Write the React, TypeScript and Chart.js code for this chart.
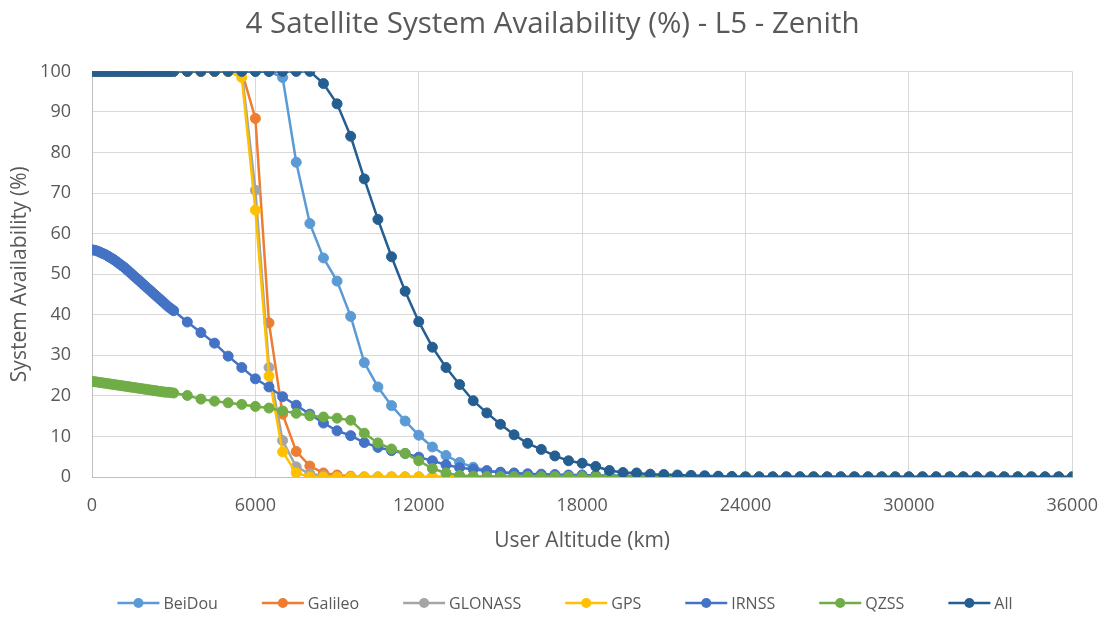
import React, { useEffect, useRef } from 'react';
import { Chart, registerables } from 'chart.js';

Chart.register(...registerables);

const FONT = "'Open Sans', sans-serif";
const TEXT = '#595959';

const chartTitle = '4 Satellite System Availability (%) - L5 - Zenith';
const xAxisTitle = 'User Altitude (km)';
const yAxisTitle = 'System Availability (%)';

const xTicks = [0, 6000, 12000, 18000, 24000, 30000, 36000];
const yTicks = [0, 10, 20, 30, 40, 50, 60, 70, 80, 90, 100];

const altitudes = [
  0, 100, 200, 300, 400, 500, 600, 700, 800, 900,
  1000, 1100, 1200, 1300, 1400, 1500, 1600, 1700, 1800, 1900,
  2000, 2100, 2200, 2300, 2400, 2500, 2600, 2700, 2800, 2900,
  3000,
  3500, 4000, 4500, 5000, 5500, 6000, 6500, 7000, 7500, 8000,
  8500, 9000, 9500, 10000, 10500, 11000, 11500, 12000, 12500, 13000,
  13500, 14000, 14500, 15000, 15500, 16000, 16500, 17000, 17500, 18000,
  18500, 19000, 19500, 20000, 20500, 21000, 21500, 22000,
  22500, 23000, 23500, 24000, 24500, 25000, 25500, 26000, 26500, 27000, 27500, 28000, 28500, 29000,
  29500, 30000, 30500, 31000, 31500, 32000, 32500, 33000, 33500, 34000, 34500, 35000, 35500, 36000,
];

const beidou = [
  100, 100, 100, 100, 100, 100, 100, 100, 100, 100,
  100, 100, 100, 100, 100, 100, 100, 100, 100, 100,
  100, 100, 100, 100, 100, 100, 100, 100, 100, 100,
  100,
  100, 100, 100, 100, 100, 100, 100, 98.5, 77.6, 62.5,
  54, 48.3, 39.6, 28.2, 22.2, 17.6, 13.8, 10.3, 7.4, 5.3,
  3.6, 2.4, 1.6, 1.1, 0.8, 0.5, 0.3, 0.2, 0.1, 0,
  0, 0, 0, 0, 0, 0, 0, 0,
  0, 0, 0, 0, 0, 0, 0, 0, 0, 0, 0, 0, 0, 0,
  0, 0, 0, 0, 0, 0, 0, 0, 0, 0, 0, 0, 0, 0,
];

const galileo = [
  100, 100, 100, 100, 100, 100, 100, 100, 100, 100,
  100, 100, 100, 100, 100, 100, 100, 100, 100, 100,
  100, 100, 100, 100, 100, 100, 100, 100, 100, 100,
  100,
  100, 100, 100, 100, 100, 88.4, 38, 15.5, 6.3, 2.7,
  1.0, 0.5, 0.2, 0, 0, 0, 0, 0, 0, 0,
  0, 0, 0, 0, 0, 0, 0, 0, 0, 0,
  0, 0, 0, 0, 0, 0, 0, 0,
  0, 0, 0, 0, 0, 0, 0, 0, 0, 0, 0, 0, 0, 0,
  0, 0, 0, 0, 0, 0, 0, 0, 0, 0, 0, 0, 0, 0,
];

const glonass = [
  100, 100, 100, 100, 100, 100, 100, 100, 100, 100,
  100, 100, 100, 100, 100, 100, 100, 100, 100, 100,
  100, 100, 100, 100, 100, 100, 100, 100, 100, 100,
  100,
  100, 100, 100, 100, 100, 70.7, 27, 9, 2.5, 0.8,
  0.3, 0, 0, 0, 0, 0, 0, 0, 0, 0,
  0, 0, 0, 0, 0, 0, 0, 0, 0, 0,
  0, 0, 0, 0, 0, 0, 0, 0,
  0, 0, 0, 0, 0, 0, 0, 0, 0, 0, 0, 0, 0, 0,
  0, 0, 0, 0, 0, 0, 0, 0, 0, 0, 0, 0, 0, 0,
];

const gps = [
  100, 100, 100, 100, 100, 100, 100, 100, 100, 100,
  100, 100, 100, 100, 100, 100, 100, 100, 100, 100,
  100, 100, 100, 100, 100, 100, 100, 100, 100, 100,
  100,
  100, 100, 100, 100, 98.5, 65.8, 24.9, 6.2, 1.0, 0,
  0, 0, 0, 0, 0, 0, 0, 0, 0, 0,
  0, 0, 0, 0, 0, 0, 0, 0, 0, 0,
  0, 0, 0, 0, 0, 0, 0, 0,
  0, 0, 0, 0, 0, 0, 0, 0, 0, 0, 0, 0, 0, 0,
  0, 0, 0, 0, 0, 0, 0, 0, 0, 0, 0, 0, 0, 0,
];

const irnss = [
  56.0, 55.9, 55.7, 55.4, 55.1, 54.8, 54.4, 54.0, 53.6, 53.1,
  52.6, 52.1, 51.6, 51.0, 50.4, 49.8, 49.2, 48.6, 48.0, 47.4,
  46.8, 46.2, 45.6, 45.0, 44.4, 43.8, 43.2, 42.6, 42.0, 41.5,
  41.0,
  38.2, 35.6, 33.0, 29.8, 27.0, 24.2, 22.2, 19.8, 17.7, 15.5,
  13.3, 11.4, 10.2, 8.5, 7.3, 6.5, 5.8, 4.9, 4.0, 3.0,
  2.3, 1.9, 1.5, 1.2, 1.0, 0.8, 0.7, 0.6, 0.5, 0.5,
  0.4, 0.4, 0.3, 0.3, 0.2, 0.2, 0.1, 0.1,
  0, 0, 0, 0, 0, 0, 0, 0, 0, 0, 0, 0, 0, 0,
  0, 0, 0, 0, 0, 0, 0, 0, 0, 0, 0, 0, 0, 0,
];

const qzss = [
  23.6, 23.5, 23.4, 23.3, 23.2, 23.1, 23.0, 22.9, 22.8, 22.7,
  22.6, 22.5, 22.4, 22.3, 22.2, 22.1, 22.0, 21.9, 21.8, 21.7,
  21.6, 21.5, 21.4, 21.3, 21.2, 21.1, 21.0, 20.9, 20.9, 20.8,
  20.7,
  20.1, 19.2, 18.7, 18.3, 17.9, 17.4, 17.0, 16.3, 15.7, 15.1,
  14.8, 14.5, 14.0, 10.8, 8.4, 6.9, 5.8, 4.0, 2.1, 1.0,
  0.4, 0.2, 0.1, 0.1, 0.1, 0.1, 0.1, 0.1, 0.1, 0.1,
  0.1, 0.1, 0.1, 0.1, 0.1, 0.1, 0.1, 0.1,
  0, 0, 0, 0, 0, 0, 0, 0, 0, 0, 0, 0, 0, 0,
  0, 0, 0, 0, 0, 0, 0, 0, 0, 0, 0, 0, 0, 0,
];

const all = [
  100, 100, 100, 100, 100, 100, 100, 100, 100, 100,
  100, 100, 100, 100, 100, 100, 100, 100, 100, 100,
  100, 100, 100, 100, 100, 100, 100, 100, 100, 100,
  100,
  100, 100, 100, 100, 100, 100, 100, 100, 100, 100,
  97, 92, 84, 73.5, 63.5, 54.3, 45.8, 38.3, 32, 27,
  22.8, 18.8, 15.8, 13, 10.4, 8.3, 6.8, 5.2, 4.0, 3.4,
  2.6, 1.6, 1.1, 1.0, 0.7, 0.6, 0.5, 0.4,
  0.3, 0.2, 0.1, 0, 0, 0, 0, 0, 0, 0, 0, 0, 0, 0,
  0, 0, 0, 0, 0, 0, 0, 0, 0, 0, 0, 0, 0, 0,
];

const seriesNames = ['BeiDou', 'Galileo', 'GLONASS', 'GPS', 'IRNSS', 'QZSS', 'All'];
const seriesValues = [beidou, galileo, glonass, gps, irnss, qzss, all];
const seriesColors = ['#5B9BD5', '#ED7D31', '#A5A5A5', '#FFC000', '#4472C4', '#70AD47', '#255E91'];

const excelLegend = {
  id: 'excelLegend',
  afterDraw(chart: any) {
    const ctx = chart.ctx;
    ctx.save();
    ctx.font = `16px ${FONT}`;
    ctx.textBaseline = 'middle';
    const lineLen = 42;
    const textGap = 4;
    const itemGap = 44;
    const widths = seriesNames.map((n) => ctx.measureText(n).width);
    const total =
      widths.reduce((a: number, w: number) => a + lineLen + textGap + w, 0) +
      itemGap * (seriesNames.length - 1);
    let x = 565 - total / 2;
    const y = 603;
    seriesNames.forEach((n, i) => {
      ctx.strokeStyle = seriesColors[i];
      ctx.lineWidth = 2.5;
      ctx.beginPath();
      ctx.moveTo(x, y);
      ctx.lineTo(x + lineLen, y);
      ctx.stroke();
      ctx.fillStyle = seriesColors[i];
      ctx.beginPath();
      ctx.arc(x + lineLen / 2, y, 5, 0, Math.PI * 2);
      ctx.fill();
      ctx.fillStyle = TEXT;
      ctx.fillText(n, x + lineLen + textGap, y + 1);
      x += lineLen + textGap + widths[i] + itemGap;
    });
    ctx.restore();
  },
};

export default function App() {
  const canvasRef = useRef<HTMLCanvasElement | null>(null);

  useEffect(() => {
    if (!canvasRef.current) return;
    const datasets = seriesNames.map((name, i) => ({
      label: name,
      data: altitudes.map((a, j) => ({ x: a, y: seriesValues[i][j] })),
      borderColor: seriesColors[i],
      backgroundColor: seriesColors[i],
      pointBackgroundColor: seriesColors[i],
      pointBorderColor: seriesColors[i],
      pointRadius: 5,
      pointBorderWidth: 1,
      borderWidth: 2.5,
      tension: 0,
      order: seriesNames.length - 1 - i,
    }));

    const chart = new Chart(canvasRef.current, {
      type: 'line',
      data: { datasets },
      plugins: [excelLegend],
      options: {
        responsive: false,
        animation: false,
        layout: { padding: { top: 0, right: 0, bottom: 61, left: 0 } },
        plugins: {
          legend: { display: false },
          tooltip: { enabled: false },
          title: {
            display: true,
            text: chartTitle,
            color: TEXT,
            font: { family: FONT, size: 29.5, weight: 'normal' },
            padding: { top: 7, bottom: 29 },
          },
        },
        scales: {
          x: {
            type: 'linear',
            min: 0,
            max: 36000,
            afterBuildTicks: (scale: any) => {
              scale.ticks = xTicks.map((v) => ({ value: v }));
            },
            afterFit: (scale: any) => {
              scale.height = 80;
            },
            ticks: {
              color: TEXT,
              font: { family: FONT, size: 18 },
              padding: 7,
              maxRotation: 0,
              callback: (v: any) => String(v),
            },
            grid: {
              color: '#d9d9d9',
              lineWidth: 1,
              drawTicks: true,
              tickLength: 11,
              tickColor: 'rgba(0,0,0,0)',
            },
            border: { display: true, color: '#bfbfbf', width: 1 },
            title: {
              display: true,
              text: xAxisTitle,
              color: TEXT,
              font: { family: FONT, size: 21 },
              padding: { top: 2, bottom: 3 },
            },
          },
          y: {
            type: 'linear',
            min: 0,
            max: 100,
            afterBuildTicks: (scale: any) => {
              scale.ticks = yTicks.map((v) => ({ value: v }));
            },
            afterFit: (scale: any) => {
              scale.width = 92;
            },
            ticks: {
              color: TEXT,
              font: { family: FONT, size: 18 },
              padding: 21,
              crossAlign: 'near',
              callback: (v: any) => String(v),
            },
            grid: {
              color: '#d9d9d9',
              lineWidth: 1,
              drawTicks: false,
            },
            border: { display: true, color: '#bfbfbf', width: 1 },
            title: {
              display: true,
              text: yAxisTitle,
              color: TEXT,
              font: { family: FONT, size: 21 },
              padding: { top: 7, bottom: 0 },
            },
          },
        },
      },
    } as any);

    return () => chart.destroy();
  }, []);

  return (
    <div style={{ position: 'absolute', left: 0, top: 0, width: 1105, height: 618, background: '#fff' }}>
      <canvas ref={canvasRef} width={1105} height={618} style={{ display: 'block' }} />
    </div>
  );
}
